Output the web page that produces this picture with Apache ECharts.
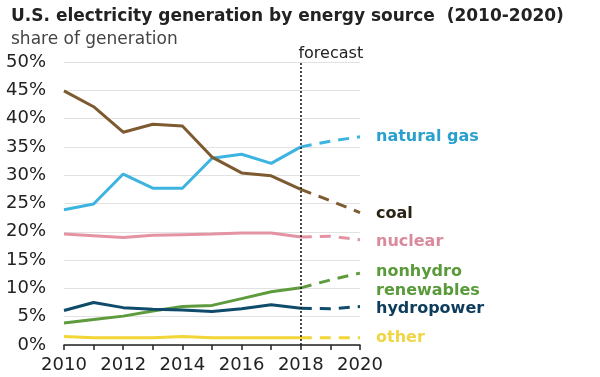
<!DOCTYPE html>
<html>
<head>
<meta charset="utf-8">
<script src="https://cdn.jsdelivr.net/npm/echarts@6/dist/echarts.min.js"></script>
<style>
  html, body { margin: 0; padding: 0; background: #fff; }
  #chart { width: 600px; height: 377px; }
</style>
</head>
<body>
<div id="chart"></div>
<script>
// 年份（2018 之后为预测）
const years = ['2010', '2011', '2012', '2013', '2014', '2015', '2016', '2017', '2018', '2019', '2020']
const yTicks = [0, 5, 10, 15, 20, 25, 30, 35, 40, 45, 50]

const naturalGas = [23.9, 24.9, 30.2, 27.7, 27.7, 33.0, 33.7, 32.1, 35.0, 36.0, 36.8]
const coal = [44.9, 42.1, 37.6, 39.0, 38.7, 33.2, 30.4, 29.9, 27.5, 25.5, 23.4]
const nuclear = [19.6, 19.3, 19.0, 19.4, 19.5, 19.6, 19.8, 19.8, 19.1, 19.2, 18.6]
const nonhydro = [3.9, 4.5, 5.1, 6.0, 6.8, 7.0, 8.2, 9.4, 10.1, 11.5, 12.7]
const hydropower = [6.1, 7.5, 6.6, 6.3, 6.2, 5.9, 6.4, 7.1, 6.5, 6.4, 6.8]
const other = [1.5, 1.3, 1.3, 1.3, 1.5, 1.3, 1.3, 1.3, 1.3, 1.3, 1.3]

const sources = [
  { name: 'natural gas', data: naturalGas, color: '#3db4e0', text: '#2aa0cf', dy: 0 },
  { name: 'coal', data: coal, color: '#7d5a30', text: '#2b2414', dy: 1 },
  { name: 'nuclear', data: nuclear, color: '#e493a3', text: '#d98a9c', dy: 2 },
  { name: 'nonhydro\nrenewables', data: nonhydro, color: '#5e9b3c', text: '#5a9a3a', dy: 8 },
  { name: 'hydropower', data: hydropower, color: '#0f4b6b', text: '#0e3d5c', dy: 2 },
  { name: 'other', data: other, color: '#f2d537', text: '#f0d545', dy: 0 }
]

const forecastIdx = 8
const font = 'DejaVu Sans, Liberation Sans, sans-serif'

const series = []
sources.forEach((s, i) => {
  // 实测部分
  series.push({
    name: s.name,
    type: 'line',
    data: s.data.map((v, k) => (k <= forecastIdx ? v : null)),
    showSymbol: false,
    lineStyle: { color: s.color, width: 3 },
    z: 3,
    markLine: i === 0 ? {
      silent: true,
      symbol: 'none',
      lineStyle: { color: '#111', type: [2, 2], width: 1.5 },
      label: {
        show: true,
        position: 'end',
        formatter: 'forecast',
        color: '#222',
        fontSize: 16,
        fontFamily: font,
        offset: [30, 5]
      },
      data: [{ xAxis: years[forecastIdx] }]
    } : undefined
  })
  // 预测部分
  series.push({
    name: s.name + ' forecast',
    type: 'line',
    data: s.data.map((v, k) => (k >= forecastIdx ? v : null)),
    showSymbol: false,
    lineStyle: { color: s.color, width: 3, type: [11, 8] },
    z: 3,
    endLabel: {
      show: true,
      formatter: s.name,
      color: s.text,
      fontSize: 16,
      fontWeight: 'bold',
      fontFamily: font,
      lineHeight: 19,
      distance: 16,
      offset: [0, s.dy]
    }
  })
})

const chart = echarts.init(document.getElementById('chart'))
chart.setOption({
  animation: false,
  title: [
    {
      text: 'U.S. electricity generation by energy source  (2010-2020)',
      left: 6,
      top: 3,
      textStyle: { fontSize: 17, fontWeight: 'bold', color: '#222', fontFamily: font }
    },
    {
      text: 'share of generation',
      left: 6,
      top: 26,
      textStyle: { fontSize: 17, fontWeight: 'normal', color: '#444', fontFamily: font }
    }
  ],
  grid: { left: 64, right: 240, top: 62, bottom: 32 },
  xAxis: {
    type: 'category',
    data: years,
    boundaryGap: false,
    axisLine: { lineStyle: { color: '#222', width: 1.5 } },
    axisTick: { show: true, interval: 0, length: 5, lineStyle: { color: '#222', width: 1.5 } },
    axisLabel: { interval: 1, color: '#222', fontSize: 18, fontFamily: font, margin: 11 }
  },
  yAxis: {
    type: 'value',
    min: yTicks[0],
    max: yTicks[yTicks.length - 1],
    interval: 5,
    axisLine: { show: false },
    axisTick: { show: false },
    axisLabel: { formatter: '{value}%', color: '#222', fontSize: 18, fontFamily: font, margin: 18 },
    splitLine: { lineStyle: { color: '#e2e2e2', width: 1 } }
  },
  series: series
})
</script>
</body>
</html>
